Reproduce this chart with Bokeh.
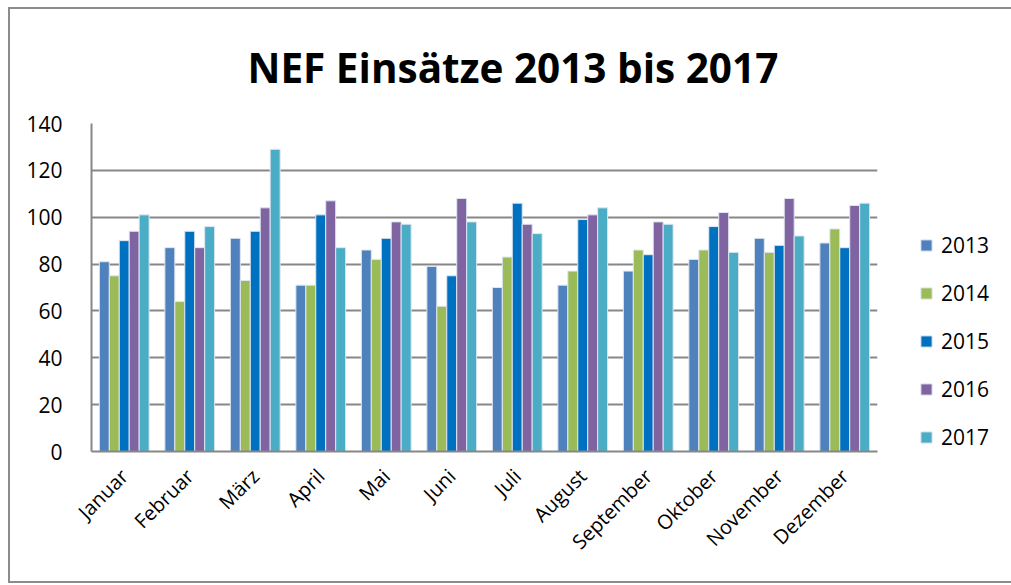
from bokeh.plotting import figure
from bokeh.models import ColumnDataSource, Legend, LegendItem, FactorRange, Title
from bokeh.transform import dodge
from bokeh.embed import file_html
from bokeh.resources import INLINE
from math import pi

months = ["Januar", "Februar", "März", "April", "Mai", "Juni", "Juli",
          "August", "September", "Oktober", "November", "Dezember"]
years = ["2013", "2014", "2015", "2016", "2017"]
v2013 = [81, 87, 91, 71, 86, 79, 70, 71, 77, 82, 91, 89]
v2014 = [75, 64, 73, 71, 82, 62, 83, 77, 86, 86, 85, 95]
v2015 = [90, 94, 94, 101, 91, 75, 106, 99, 84, 96, 88, 87]
v2016 = [94, 87, 104, 107, 98, 108, 97, 101, 98, 102, 108, 105]
v2017 = [101, 96, 129, 87, 97, 98, 93, 104, 97, 85, 92, 106]
colors = ["#4F81BD", "#9BBB59", "#0070C0", "#8064A2", "#4BACC6"]
y_ticks = [0, 20, 40, 60, 80, 100, 120, 140]

src = ColumnDataSource(dict(month=months, y2013=v2013, y2014=v2014, y2015=v2015,
                            y2016=v2016, y2017=v2017))

FONT = "Open Sans"

p = figure(frame_width=786, frame_height=328,
           x_range=FactorRange(*months, range_padding=0),
           y_range=(0, 140), output_backend="svg", toolbar_location=None,
           min_border_left=81, min_border_right=129, min_border_top=111,
           min_border_bottom=130)
p.styles = {"border": "2px solid #8c8c8c", "box-sizing": "border-box",
            "margin-left": "8px", "margin-top": "7px"}
p.outline_line_color = None
p.background_fill_color = "white"

bw = 0.152
offsets = [-2 * bw, -bw, 0, bw, 2 * bw]
renderers = []
for yr, off, c in zip(years, offsets, colors):
    r = p.vbar(x=dodge("month", off, range=p.x_range), top="y" + yr, width=bw,
               source=src, fill_color=c, line_color="#dfe6f0", line_width=1)
    renderers.append(r)

legend = Legend(items=[LegendItem(label=yr, renderers=[r]) for yr, r in zip(years, renderers)],
                location=(42, -10), orientation="vertical")
legend.label_text_font = FONT
legend.label_text_font_size = "21px"
legend.label_text_color = "black"
legend.glyph_width = 14
legend.glyph_height = 14
legend.label_height = 48
legend.spacing = 0
legend.padding = 0
legend.margin = 0
legend.border_line_color = None
legend.background_fill_alpha = 0
legend.label_standoff = 8
p.add_layout(legend, "right")

p.xgrid.grid_line_color = None
p.ygrid.grid_line_color = "#878787"
p.ygrid.grid_line_width = 2
p.yaxis.ticker = y_ticks
p.yaxis.axis_line_color = "#878787"
p.yaxis.axis_line_width = 2
p.yaxis.major_tick_line_color = None
p.yaxis.minor_tick_line_color = None
p.yaxis.major_label_text_font = FONT
p.yaxis.major_label_text_font_size = "21px"
p.yaxis.major_label_text_color = "black"
p.yaxis.major_label_standoff = 23

p.xaxis.axis_line_color = "#878787"
p.xaxis.axis_line_width = 2
p.xaxis.major_tick_line_color = None
p.xaxis.major_label_orientation = pi / 4
p.xaxis.major_label_text_font = FONT
p.xaxis.major_label_text_font_size = "20px"
p.xaxis.major_label_text_color = "black"
p.xaxis.major_label_standoff = 15

title = Title(text="NEF Einsätze 2013 bis 2017", align="left", offset=156,
              text_font=FONT, text_font_size="40.5px", text_font_style="bold",
              text_color="black", standoff=57)
p.add_layout(title, "above")

open("out.html", "w").write(file_html(p, INLINE))
